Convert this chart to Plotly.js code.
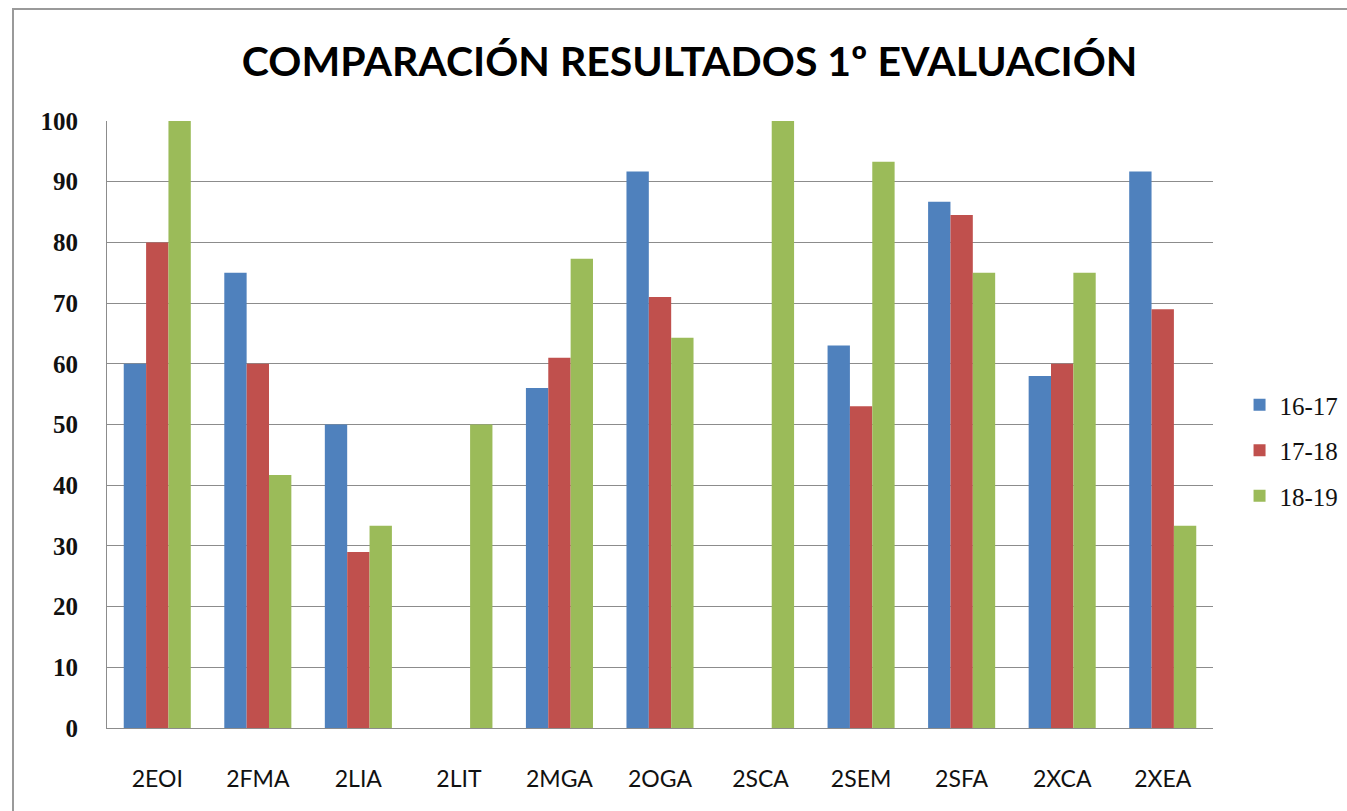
<!DOCTYPE html>
<html>
<head>
<meta charset="utf-8">
<script src="https://cdn.plot.ly/plotly-3.0.1.min.js"></script>
<style>
  html, body { margin:0; padding:0; background:#fff; overflow:hidden; }
  #chart { width:1347px; height:811px; }
  #frame { position:absolute; left:12px; top:8px; width:1400px; height:900px;
           border:2px solid #9a9a9a; pointer-events:none; }
</style>
</head>
<body>
<div id="chart"></div>
<div id="frame"></div>
<script>
const categories = ["2EOI","2FMA","2LIA","2LIT","2MGA","2OGA","2SCA","2SEM","2SFA","2XCA","2XEA"];
const seriesNames = ["16-17","17-18","18-19"];
const s1617 = [60, 75, 50, null, 56, 91.7, null, 63, 86.7, 58, 91.7];
const s1718 = [80, 60, 29, null, 61, 71, null, 53, 84.5, 60, 69];
const s1819 = [100, 41.7, 33.3, 50, 77.3, 64.3, 100, 93.3, 75, 75, 33.3];
const colors = ["#4F81BD", "#C0504D", "#9BBB59"];
const yTicks = [0,10,20,30,40,50,60,70,80,90,100];

const allSeries = [s1617, s1718, s1819];
const traces = allSeries.map((vals, i) => ({
  type: "bar",
  name: seriesNames[i],
  x: categories,
  y: vals,
  marker: { color: colors[i], line: { width: 0 } },
  legendgroup: "g" + i,
  hoverinfo: "x+y+name"
}));

const layout = {
  width: 1347, height: 811,
  margin: { l: 107, r: 134, t: 121, b: 83, autoexpand: false },
  paper_bgcolor: "#ffffff",
  plot_bgcolor: "#ffffff",
  barmode: "group",
  bargap: 0.333,
  bargroupgap: 0,
  title: {
    text: "<b>COMPARACIÓN RESULTADOS 1º EVALUACIÓN</b>",
    font: { family: "Lato, 'Open Sans', sans-serif", size: 41, color: "#000" },
    x: 0.512, xref: "container", xanchor: "center",
    y: 0.924, yref: "container", yanchor: "middle"
  },
  xaxis: {
    type: "category",
    showgrid: false,
    showline: true, linecolor: "#8c8c8c", linewidth: 1,
    ticks: "", ticklabelstandoff: 30,
    tickfont: { family: "Lato, 'Open Sans', sans-serif", size: 23, color: "#111" },
    fixedrange: true
  },
  yaxis: {
    range: [0, 100],
    tickvals: yTicks,
    ticktext: yTicks.map(String),
    showgrid: true, gridcolor: "#8c8c8c", gridwidth: 1,
    showline: true, linecolor: "#8c8c8c", linewidth: 1,
    zeroline: false,
    ticks: "", ticklabelstandoff: 23,
    tickfont: { family: "'Liberation Serif', 'DejaVu Serif', serif", size: 25, color: "#111", weight: "bold" },
    fixedrange: true
  },
  showlegend: true,
  legend: {
    x: 1.024, xanchor: "left",
    y: 0.457, yanchor: "middle",
    traceorder: "grouped",
    tracegroupgap: 10,
    font: { family: "'Liberation Serif', 'DejaVu Serif', serif", size: 25, color: "#111" },
    bgcolor: "rgba(0,0,0,0)",
    itemwidth: 30
  }
};

Plotly.newPlot("chart", traces, layout, { displayModeBar: false, staticPlot: true });
</script>
</body>
</html>
